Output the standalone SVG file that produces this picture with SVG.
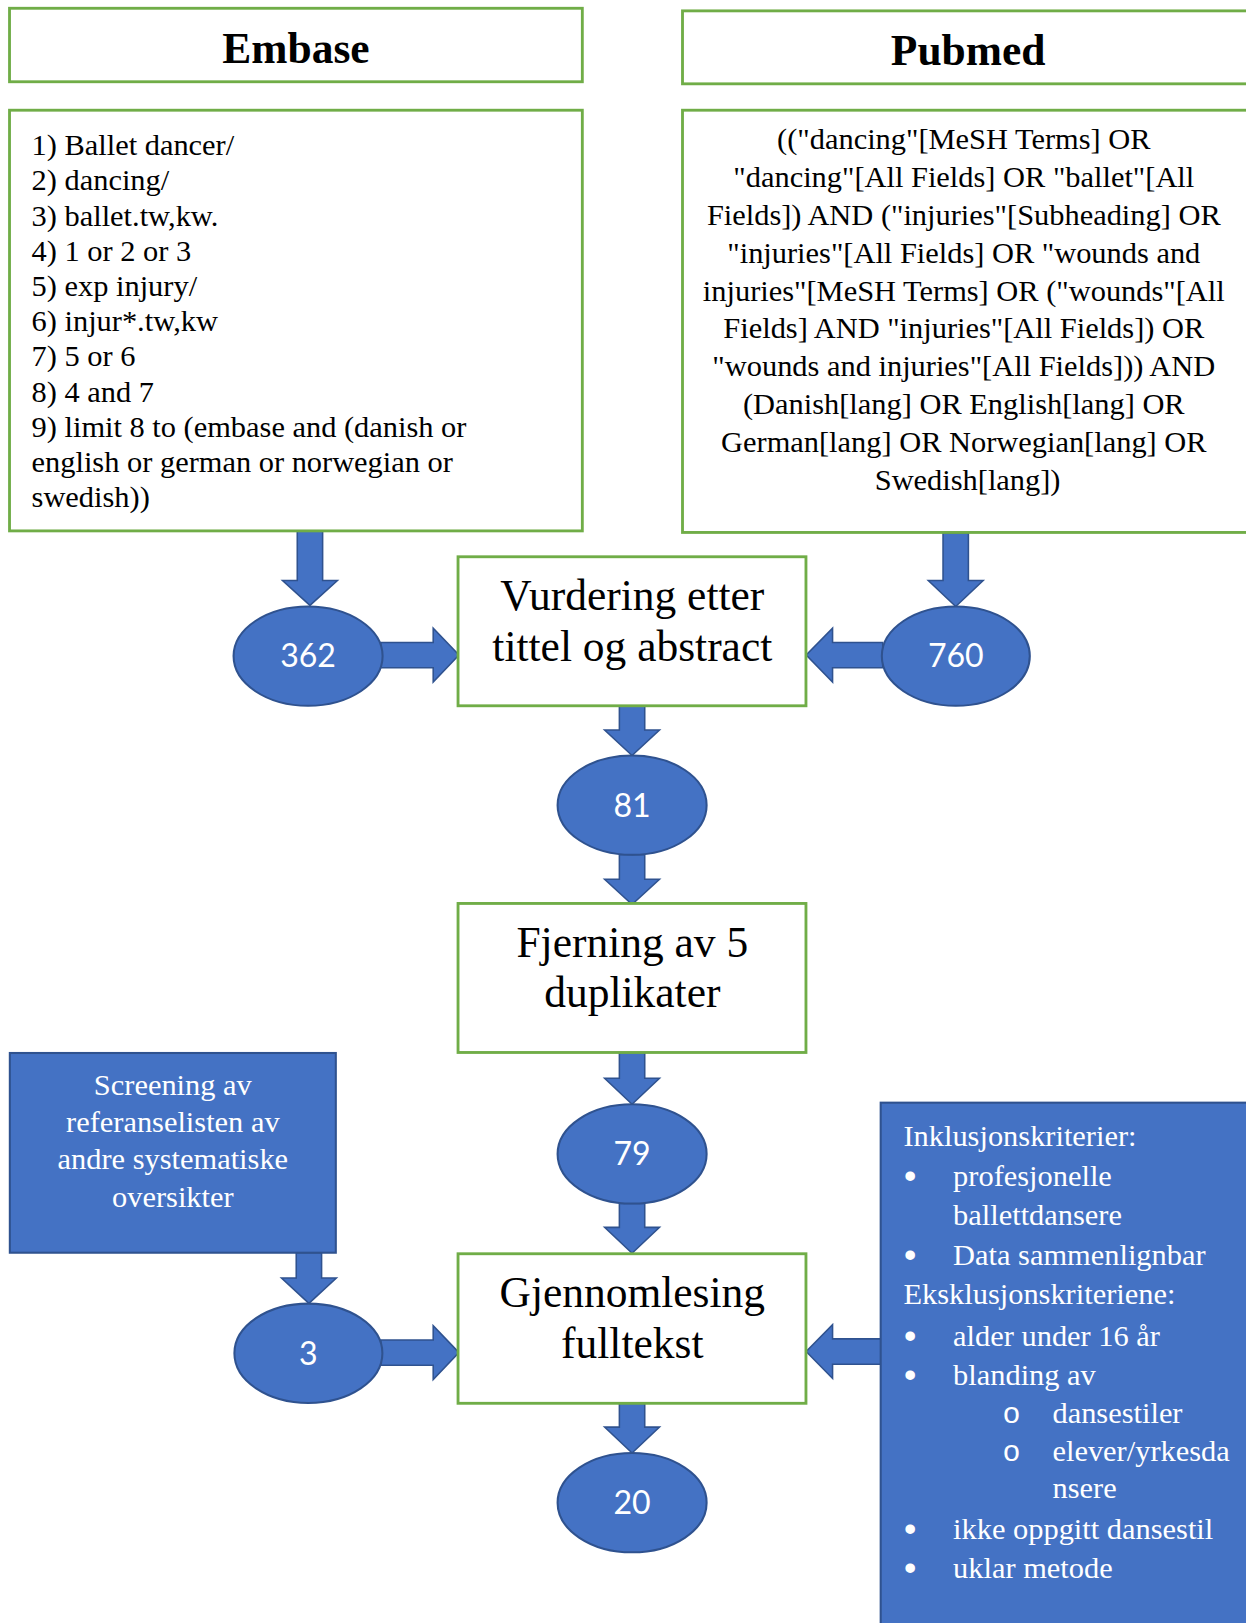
<svg xmlns="http://www.w3.org/2000/svg" width="1246" height="1623" viewBox="0 0 1246 1623">
<style>
.gbox{fill:#fff;stroke:#70AD47;stroke-width:2.75}
.bbox{fill:#4472C4;stroke:#2F528F;stroke-width:2}
.circ{fill:#4472C4;stroke:#2F528F;stroke-width:2}
.arr{fill:#4472C4;stroke:#2F528F;stroke-width:1.5}
.serif{font-family:"Liberation Serif","Times New Roman",serif;fill:#000}
.head{font-size:42px;font-weight:bold;text-anchor:middle}
.body{font-size:29.4px}
.mid{text-anchor:middle}
.big{font-size:42px;text-anchor:middle}
.num{font-family:Lato,"Open Sans",sans-serif;font-size:31px;fill:#fff;text-anchor:middle}
.wt{fill:#fff}
.bul{font-family:"Liberation Sans",Arial,sans-serif;font-size:34px;fill:#fff;text-anchor:middle}
.sub{font-family:"Liberation Mono","Courier New",monospace;font-size:29px;fill:#fff;text-anchor:middle}
</style>
<rect width="1246" height="1623" fill="#fff"/>
<g transform="scale(1.03488)">
<g id="connectors">
<polygon class="arr" points="287.25,513 311.75,513 311.75,561 326,561 299.5,585 273,561 287.25,561"/>
<polygon class="arr" points="911.25,515 935.75,515 935.75,561 950,561 923.5,586 897,561 911.25,561"/>
<polygon class="arr" points="368,620.75 418.6,620.75 418.6,607 443.5,633 418.6,659 418.6,645.25 368,645.25"/>
<polygon class="arr" points="853,620.75 804.5,620.75 804.5,607 779,633 804.5,659 804.5,645.25 853,645.25"/>
<polygon class="arr" points="598.5,682 623,682 623,705.4 637.25,705.4 610.75,730 584.25,705.4 598.5,705.4"/>
<polygon class="arr" points="598.5,826 623,826 623,849.7 637.25,849.7 610.75,874 584.25,849.7 598.5,849.7"/>
<polygon class="arr" points="598.5,1017 623,1017 623,1042 637.25,1042 610.75,1067 584.25,1042 598.5,1042"/>
<polygon class="arr" points="598.5,1163 623,1163 623,1186 637.25,1186 610.75,1211 584.25,1186 598.5,1186"/>
<polygon class="arr" points="598.5,1356 623,1356 623,1379 637.25,1379 610.75,1404 584.25,1379 598.5,1379"/>
<polygon class="arr" points="286.25,1210.5 310.75,1210.5 310.75,1235 325,1235 298.5,1259.5 272,1235 286.25,1235"/>
<polygon class="arr" points="368,1294.75 418.6,1294.75 418.6,1281 443.5,1307 418.6,1333 418.6,1319.25 368,1319.25"/>
<polygon class="arr" points="852,1293.75 804.5,1293.75 804.5,1280 779,1306 804.5,1332 804.5,1318.25 852,1318.25"/>
</g>
<g id="embase-header">
<rect class="gbox" x="9.2" y="8" width="553.5" height="71"/>
<text class="serif head" x="286" y="61">Embase</text>
</g>
<g id="pubmed-header">
<rect class="gbox" x="659.5" y="10.5" width="600" height="70.5"/>
<text class="serif head" x="935.5" y="63">Pubmed</text>
</g>
<g id="embase-query">
<rect class="gbox" x="9.2" y="106.5" width="553.5" height="406.5"/>
<text class="serif body" x="30.5">
<tspan x="30.5" y="150">1) Ballet dancer/</tspan>
<tspan x="30.5" y="184">2) dancing/</tspan>
<tspan x="30.5" y="218">3) ballet.tw,kw.</tspan>
<tspan x="30.5" y="252">4) 1 or 2 or 3</tspan>
<tspan x="30.5" y="286">5) exp injury/</tspan>
<tspan x="30.5" y="320">6) injur*.tw,kw</tspan>
<tspan x="30.5" y="354">7) 5 or 6</tspan>
<tspan x="30.5" y="388">8) 4 and 7</tspan>
<tspan x="30.5" y="422">9) limit 8 to (embase and (danish or</tspan>
<tspan x="30.5" y="456">english or german or norwegian or</tspan>
<tspan x="30.5" y="490">swedish))</tspan>
</text>
</g>
<g id="pubmed-query">
<rect class="gbox" x="659.5" y="106.5" width="600" height="408"/>
<text class="serif body mid">
<tspan x="935" y="144">(("dancing"[MeSH Terms] OR</tspan>
<tspan x="935" y="180.6">"dancing"[All Fields] OR "ballet"[All</tspan>
<tspan x="935" y="217.2">Fields]) AND ("injuries"[Subheading] OR</tspan>
<tspan x="935" y="253.8">"injuries"[All Fields] OR "wounds and</tspan>
<tspan x="935" y="290.4">injuries"[MeSH Terms] OR ("wounds"[All</tspan>
<tspan x="935" y="327">Fields] AND "injuries"[All Fields]) OR</tspan>
<tspan x="935" y="363.6">"wounds and injuries"[All Fields])) AND</tspan>
<tspan x="935" y="400.2">(Danish[lang] OR English[lang] OR</tspan>
<tspan x="935" y="436.8">German[lang] OR Norwegian[lang] OR</tspan>
<tspan x="935" y="473.4">Swedish[lang])</tspan>
</text>
</g>
<g id="vurdering">
<rect class="gbox" x="442.6" y="538" width="336.2" height="144"/>
<text class="serif big"><tspan x="611" y="589.5">Vurdering etter</tspan><tspan x="611" y="638.5">tittel og abstract</tspan></text>
</g>
<g id="n362">
<ellipse class="circ" cx="297.7" cy="634" rx="72" ry="48"/>
<text class="num" x="297.7" y="645">362</text>
</g>
<g id="n760">
<ellipse class="circ" cx="923.6" cy="634" rx="71.5" ry="48"/>
<text class="num" x="923.6" y="645">760</text>
</g>
<g id="n81">
<ellipse class="circ" cx="610.8" cy="778" rx="72" ry="48"/>
<text class="num" x="610.8" y="789">81</text>
</g>
<g id="fjerning">
<rect class="gbox" x="442.6" y="873" width="336.2" height="144"/>
<text class="serif big"><tspan x="611" y="924.5">Fjerning av 5</tspan><tspan x="611" y="973.5">duplikater</tspan></text>
</g>
<g id="n79">
<ellipse class="circ" cx="610.8" cy="1115" rx="72" ry="48"/>
<text class="num" x="610.8" y="1126">79</text>
</g>
<g id="gjennomlesing">
<rect class="gbox" x="442.6" y="1211.5" width="336.2" height="144.5"/>
<text class="serif big"><tspan x="611" y="1262.5">Gjennomlesing</tspan><tspan x="611" y="1312.5">fulltekst</tspan></text>
</g>
<g id="n20">
<ellipse class="circ" cx="610.8" cy="1452" rx="72" ry="48"/>
<text class="num" x="610.8" y="1463">20</text>
</g>
<g id="screening">
<rect class="bbox" x="9.5" y="1017.5" width="315" height="193"/>
<text class="serif body mid wt"><tspan x="167" y="1058">Screening av</tspan><tspan x="167" y="1094">referanselisten av</tspan><tspan x="167" y="1130">andre systematiske</tspan><tspan x="167" y="1166">oversikter</tspan></text>
</g>
<g id="n3">
<ellipse class="circ" cx="298" cy="1307.7" rx="71.5" ry="48"/>
<text class="num" x="298" y="1318.7">3</text>
</g>
<g id="kriterier">
<rect class="bbox" x="851" y="1065.5" width="420" height="560"/>
<g class="serif body wt">
<text x="873" y="1107">Inklusjonskriterier:</text>
<text x="921" y="1146">profesjonelle</text>
<text x="921" y="1184">ballettdansere</text>
<text x="921" y="1222.5">Data sammenlignbar</text>
<text x="873" y="1260">Eksklusjonskriteriene:</text>
<text x="921" y="1300.5">alder under 16 år</text>
<text x="921" y="1338.5">blanding av</text>
<text x="1017" y="1375">dansestiler</text>
<text x="1017" y="1411.5">elever/yrkesda</text>
<text x="1017" y="1447.5">nsere</text>
<text x="921" y="1487.5">ikke oppgitt dansestil</text>
<text x="921" y="1525">uklar metode</text>
</g>
<text class="bul" x="879.5" y="1148">•</text>
<text class="bul" x="879.5" y="1224.5">•</text>
<text class="bul" x="879.5" y="1302.5">•</text>
<text class="bul" x="879.5" y="1340.5">•</text>
<text class="bul" x="879.5" y="1489.5">•</text>
<text class="bul" x="879.5" y="1527">•</text>
<text class="sub" x="977.5" y="1375">o</text>
<text class="sub" x="977.5" y="1411.5">o</text>
</g>
</g>
</svg>
